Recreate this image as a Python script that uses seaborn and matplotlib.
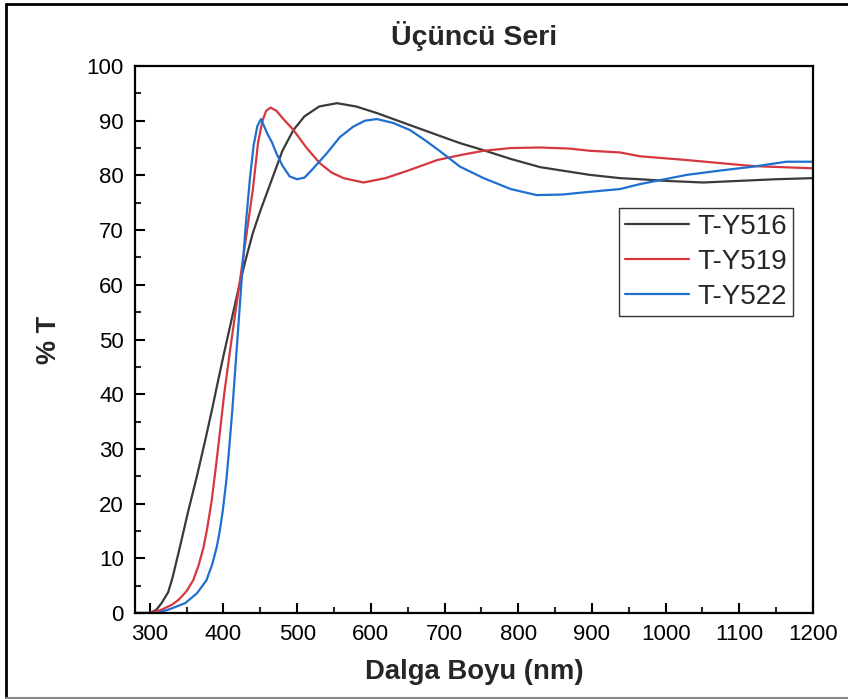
import matplotlib
matplotlib.use("Agg")
import matplotlib.pyplot as plt
from matplotlib.lines import Line2D
from matplotlib.ticker import MultipleLocator
import numpy as np
import pandas as pd
import seaborn as sns

# Transmittance spectra (% T vs wavelength in nm)
wl_y516 = [280, 300, 309, 316, 325, 331, 341, 352, 364, 376, 385, 392, 400, 410,
           420, 430, 440, 450, 465, 480, 495, 510, 530, 554, 580, 608, 653, 694,
           721, 753, 790, 830, 897, 938, 965, 1000, 1051, 1100, 1150, 1200]
t_y516 = [0, 0, 0.6, 1.8, 3.8, 6.5, 12.1, 18.5, 25, 32, 37.5, 42, 47, 53,
          59, 64.5, 69.5, 73.5, 79, 84.5, 88.3, 90.8, 92.6, 93.2, 92.6, 91.4, 89.2, 87.2,
          85.9, 84.6, 83, 81.5, 80.1, 79.5, 79.3, 79.0, 78.7, 79.0, 79.3, 79.5]

wl_y519 = [280, 300, 316, 330, 339, 350, 359, 366, 373, 378, 384, 390, 396, 401,
           410, 420, 430, 440, 447, 453, 458, 464, 472, 480, 495, 513, 531, 547,
           563, 590, 620, 653, 690, 721, 753, 790, 830, 870, 897, 938, 965, 1029,
           1119, 1200]
t_y519 = [0, 0, 0.6, 1.5, 2.4, 4, 6, 8.6, 12, 15.5, 20.5, 27, 34, 40,
          49, 58.5, 68, 77.5, 86, 90, 91.8, 92.4, 91.8, 90.5, 88.3, 85, 82.2, 80.5,
          79.5, 78.7, 79.5, 81, 82.8, 83.7, 84.5, 85, 85.1, 84.9, 84.5, 84.2, 83.5, 82.8,
          81.7, 81.3]

wl_y522 = [280, 310, 325, 348, 364, 377, 385, 391, 395, 399, 404, 408, 412, 416,
           420, 425, 430, 436, 441, 446, 451, 460, 466, 472, 480, 490, 500, 510,
           520, 540, 558, 576, 592, 608, 630, 653, 675, 698, 721, 753, 790, 825,
           860, 897, 938, 965, 1029, 1075, 1119, 1164, 1200]
t_y522 = [0, 0, 0.6, 1.8, 3.6, 6, 9, 12.1, 15, 18.6, 24.3, 30.4, 37, 44.5,
          52, 61.5, 70.5, 79.5, 85.5, 89, 90.3, 87.5, 86, 84, 81.8, 79.8, 79.3, 79.6,
          81, 84, 87, 88.9, 90, 90.3, 89.6, 88.3, 86.3, 84, 81.6, 79.5, 77.5, 76.4,
          76.5, 77, 77.5, 78.4, 80.1, 80.9, 81.6, 82.5, 82.5]

series_names = ["T-Y516", "T-Y519", "T-Y522"]
series_colors = ["#3a3a3a", "#d6373f", "#1e6fd0"]
x_ticks = [300, 400, 500, 600, 700, 800, 900, 1000, 1100, 1200]
y_ticks = [0, 10, 20, 30, 40, 50, 60, 70, 80, 90, 100]

frames = []
for name, wl, t in zip(series_names, [wl_y516, wl_y519, wl_y522],
                       [t_y516, t_y519, t_y522]):
    frames.append(pd.DataFrame({"wl": wl, "T": t, "sample": name}))
df = pd.concat(frames, ignore_index=True)

sns.set_theme(style="ticks")
plt.rcParams["font.family"] = ["Liberation Sans", "DejaVu Sans"]

fig = plt.figure(figsize=(8.48, 6.99), dpi=100)
ax = fig.add_axes([0.1592, 0.123, 0.7995, 0.7826])

sns.lineplot(data=df, x="wl", y="T", hue="sample", palette=series_colors,
             hue_order=series_names, linewidth=1.6, ax=ax, legend=False,
             sort=True, estimator=None)

ax.set_xlim(280, 1200)
ax.set_ylim(0, 100)
ax.set_xticks(x_ticks)
ax.set_yticks(y_ticks)
ax.xaxis.set_minor_locator(MultipleLocator(50))
ax.yaxis.set_minor_locator(MultipleLocator(5))
ax.tick_params(axis="both", which="major", direction="in", length=7, width=1.5,
               labelsize=16, colors="black", pad=8, top=False, right=False)
ax.tick_params(axis="both", which="minor", direction="in", length=4.5, width=1.5,
               top=False, right=False)
for sp in ax.spines.values():
    sp.set_visible(True)
    sp.set_linewidth(1.6)
    sp.set_color("black")

ax.set_xlabel("Dalga Boyu (nm)", fontsize=19.8, fontweight="bold", labelpad=10)
ax.set_ylabel("% T", fontsize=19.5, fontweight="bold", labelpad=18)
ax.set_title("Üçüncü Seri", fontsize=20.5, fontweight="bold", pad=15)

handles = [Line2D([0], [0], color=c, linewidth=1.6) for c in series_colors]
leg = ax.legend(handles, series_names, loc="upper right",
                bbox_to_anchor=(0.9705, 0.7404), fontsize=20, frameon=True,
                fancybox=False, shadow=False, handlelength=2.3,
                handletextpad=0.3, borderpad=0.22, labelspacing=0.32,
                borderaxespad=0)
leg.get_frame().set_edgecolor("black")
leg.get_frame().set_linewidth(1.0)

# Outer frame around the whole figure
fig.add_artist(Line2D([6 / 848, 6 / 848], [1 - 4 / 699, 1 - 698 / 699],
                      transform=fig.transFigure, color="black", linewidth=2))
fig.add_artist(Line2D([6 / 848, 1.0], [1 - 4 / 699, 1 - 4 / 699],
                      transform=fig.transFigure, color="black", linewidth=2))
fig.add_artist(Line2D([6 / 848, 1.0], [1 - 698 / 699, 1 - 698 / 699],
                      transform=fig.transFigure, color="#888888", linewidth=1.5))

fig.savefig("out.png", dpi=100, facecolor="white")
